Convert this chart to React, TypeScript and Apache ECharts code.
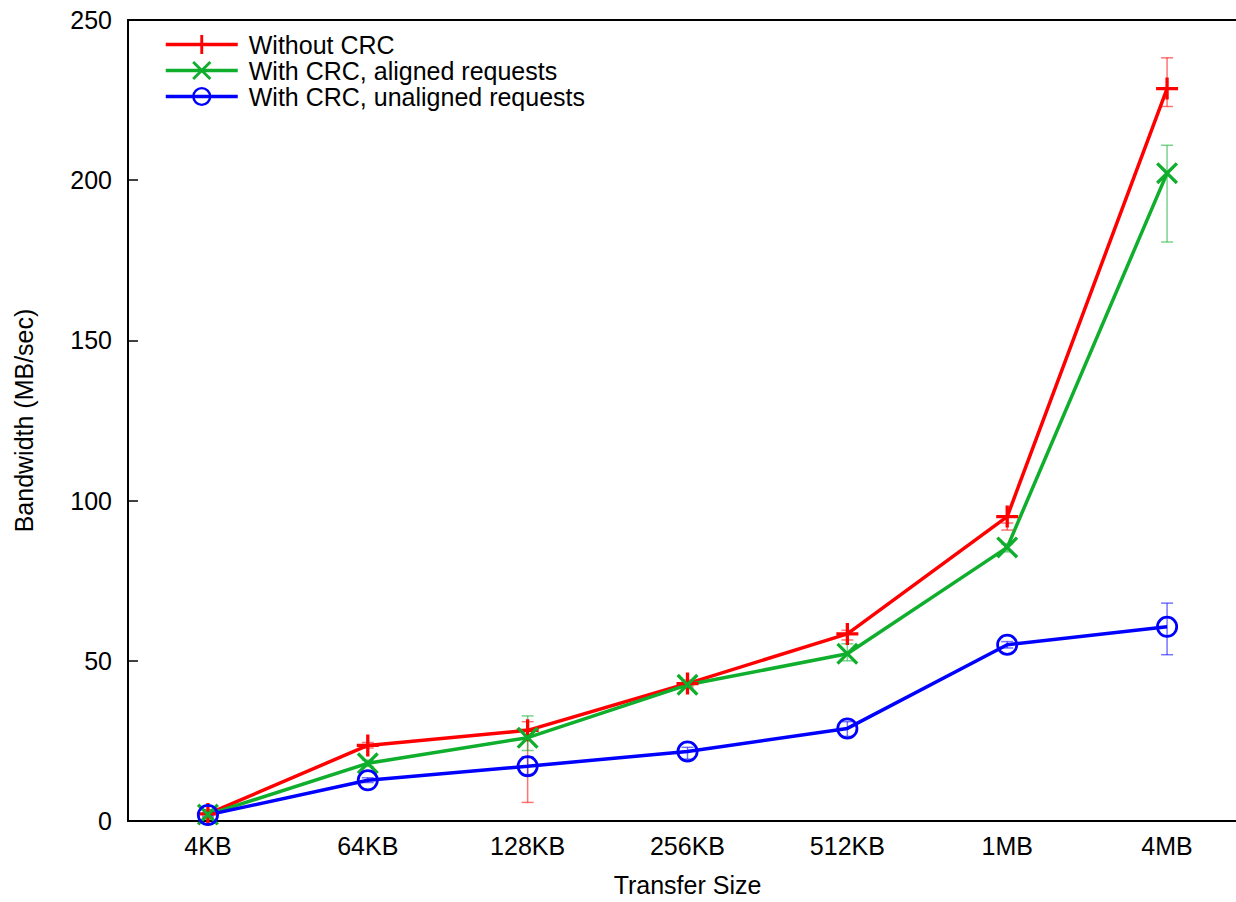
import React, { useEffect, useRef } from "react";
import * as echarts from "echarts";

const categories = ["4KB", "64KB", "128KB", "256KB", "512KB", "1MB", "4MB"];
const yTicks = { min: 0, max: 250, interval: 50 };

const seriesNames = ["Without CRC", "With CRC, aligned requests", "With CRC, unaligned requests"];
const withoutCrc = [2.2, 23.6, 28.3, 42.9, 58.4, 95.0, 228.6];
const alignedCrc = [2.0, 18.0, 26.0, 42.5, 52.2, 85.4, 202.2];
const unalignedCrc = [1.9, 12.7, 17.1, 21.7, 28.9, 55.0, 60.6];

const withoutCrcErr = [[1.0, 3.5], [22.8, 24.5], [5.8, 31.0], [42.0, 44.0], [56.5, 59.5], [90.8, 93.0], [223.0, 238.2]];
const alignedCrcErr = [[0.5, 3.5], [17.0, 19.0], [22.0, 32.8], [41.5, 43.5], [50.0, 55.3], [84.0, 86.5], [180.7, 210.9]];
const unalignedCrcErr = [[1.5, 2.5], [12.0, 13.5], [14.5, 20.0], [19.3, 23.0], [26.4, 31.0], [54.0, 56.0], [51.9, 68.0]];

const RED = "#ff0000";
const GREEN = "#0fae2c";
const BLUE = "#0000ff";

const PLUS =
  "path://M-0.15,-1L0.15,-1L0.15,-0.15L1,-0.15L1,0.15L0.15,0.15L0.15,1L-0.15,1L-0.15,0.15L-1,0.15L-1,-0.15L-0.15,-0.15Z";
const k = 0.21;
const CROSS = `path://M0,${-k}L${1 - k},-1L1,${-1 + k}L${k},0L1,${1 - k}L${1 - k},1L0,${k}L${-1 + k},1L-1,${1 - k}L${-k},0L-1,${-1 + k}L${-1 + k},-1Z`;
const RING =
  "path://M1,0A1,1 0 1,1 -1,0A1,1 0 1,1 1,0ZM0.75,0A0.75,0.75 0 1,0 -0.75,0A0.75,0.75 0 1,0 0.75,0Z";

const FONT = "'Liberation Sans', Arial, Helvetica, sans-serif";
const FS = 25;

function errSeries(name: string, errs: number[][], color: string) {
  return {
    type: "custom",
    name,
    z: 1,
    silent: true,
    xAxisIndex: 0,
    encode: { x: 0, y: [1, 2] },
    data: errs.map((e, i) => [i, e[0], e[1]]),
    renderItem: (params: any, api: any) => {
      const x = api.value(0);
      const lo = api.coord([x, api.value(1)]);
      const hi = api.coord([x, api.value(2)]);
      const cw = 6;
      const st = { stroke: color, lineWidth: 1.5 };
      return {
        type: "group",
        children: [
          { type: "line", shape: { x1: lo[0], y1: lo[1], x2: hi[0], y2: hi[1] }, style: st },
          { type: "line", shape: { x1: lo[0] - cw, y1: lo[1], x2: lo[0] + cw, y2: lo[1] }, style: st },
          { type: "line", shape: { x1: hi[0] - cw, y1: hi[1], x2: hi[0] + cw, y2: hi[1] }, style: st },
        ],
      };
    },
  };
}

function lineSeries(name: string, data: number[], color: string, symbol: string) {
  return {
    type: "line",
    name,
    data,
    xAxisIndex: 0,
    z: 3,
    symbol,
    symbolSize: 22,
    showAllSymbol: true,
    lineStyle: { color, width: 3.5 },
    itemStyle: { color, borderWidth: 0 },
  };
}

export default function App() {
  const ref = useRef<HTMLDivElement>(null);
  useEffect(() => {
    document.documentElement.style.overflow = "hidden";
    document.body.style.overflow = "hidden";
    document.body.style.margin = "0";
    if (!ref.current) return;
    const chart = echarts.init(ref.current, undefined, { renderer: "svg" });
    chart.setOption({
      animation: false,
      backgroundColor: "#fff",
      textStyle: { fontFamily: FONT },
      grid: { left: 128, top: 20, right: 13, bottom: 77, show: false },
      legend: {
        orient: "vertical",
        left: 159,
        top: 27,
        itemWidth: 72,
        itemHeight: 24,
        itemGap: 1,
        data: seriesNames,
        lineStyle: { width: 3.5 },
        textStyle: { fontSize: FS, color: "#000", fontFamily: FONT, padding: [0, 0, 0, 6] },
      },
      xAxis: [
        {
          type: "category",
          data: categories,
          boundaryGap: true,
          name: "Transfer Size",
          nameLocation: "middle",
          nameGap: 51,
          nameTextStyle: { fontSize: FS, color: "#000", fontFamily: FONT },
          axisLine: { lineStyle: { color: "#000", width: 2 } },
          axisTick: { inside: true, alignWithLabel: true, length: 10, lineStyle: { color: "#000", width: 1.5 } },
          axisLabel: { fontSize: FS, color: "#000", margin: 12, fontFamily: FONT },
          splitLine: { show: false },
        },
        {
          type: "category",
          data: categories,
          position: "top",
          boundaryGap: true,
          axisLine: { show: true, lineStyle: { color: "#000", width: 2 } },
          axisTick: { show: false },
          axisLabel: { show: false },
          splitLine: { show: false },
        },
      ],
      yAxis: {
        type: "value",
        min: yTicks.min,
        max: yTicks.max,
        interval: yTicks.interval,
        name: "Bandwidth (MB/sec)",
        nameLocation: "middle",
        nameGap: 92,
        nameTextStyle: { fontSize: FS, color: "#000", fontFamily: FONT },
        axisLine: { show: true, lineStyle: { color: "#000", width: 2 } },
        axisTick: { show: true, inside: true, length: 10, lineStyle: { color: "#000", width: 1.5 } },
        axisLabel: { fontSize: FS, color: "#000", margin: 16, fontFamily: FONT },
        splitLine: { show: false },
      },
      series: [
        errSeries("errWithout", withoutCrcErr, "rgba(255,0,0,0.55)"),
        errSeries("errAligned", alignedCrcErr, "rgba(15,174,44,0.55)"),
        errSeries("errUnaligned", unalignedCrcErr, "rgba(0,0,255,0.55)"),
        lineSeries(seriesNames[0], withoutCrc, RED, PLUS),
        lineSeries(seriesNames[1], alignedCrc, GREEN, CROSS),
        lineSeries(seriesNames[2], unalignedCrc, BLUE, RING),
      ],
    });
    return () => chart.dispose();
  }, []);
  return (
    <div
      style={{ position: "fixed", left: 0, top: 0, width: 1236, height: 902, overflow: "hidden", background: "#fff" }}
    >
      <div ref={ref} style={{ width: 1260, height: 902 }} />
    </div>
  );
}
